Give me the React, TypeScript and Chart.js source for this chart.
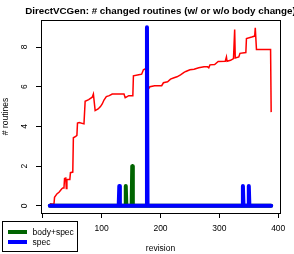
import React, { useEffect, useRef } from "react";
import { Chart, registerables } from "chart.js";

Chart.register(...registerables);

const TITLE = "DirectVCGen: # changed routines (w/ or w/o body change)";
const X_LABEL = "revision";
const Y_LABEL = "# routines";
const LEGEND_LABELS = ["body+spec", "spec"];

// all routines changed (red line)
const redX = [12, 19, 20, 24, 28, 32, 34, 36, 37, 39, 40, 41, 46, 47, 51, 52, 56, 58, 59, 62, 70, 72, 78, 84, 86, 89, 94, 98, 101, 104, 108, 113, 118, 138, 140, 142, 146, 153, 154, 163, 168, 171, 176, 177, 178, 182, 190, 202, 205, 212, 217, 223, 228, 234, 240, 243, 250, 257, 265, 274, 280, 282, 284, 292, 298, 310, 312, 313, 319, 324, 326, 327, 333, 335, 345, 346, 355, 360, 361, 363, 387, 388];
const redY = [0.1, 0.08, 0.43, 0.6, 0.7, 0.85, 0.9, 0.9, 1.38, 1.4, 0.88, 1.33, 1.33, 1.67, 1.7, 3.43, 3.5, 3.55, 4.17, 4.2, 4.13, 5.27, 5.35, 5.47, 5.63, 4.8, 4.88, 5.0, 5.13, 5.33, 5.5, 5.55, 5.63, 5.63, 5.45, 5.48, 5.55, 5.55, 6.55, 6.6, 6.63, 6.85, 6.93, 6.95, 5.83, 6.0, 6.05, 6.05, 6.2, 6.25, 6.38, 6.45, 6.5, 6.6, 6.72, 6.77, 6.85, 6.88, 6.95, 7.0, 7.0, 6.95, 7.1, 7.12, 7.27, 7.28, 7.5, 7.28, 7.33, 7.42, 8.88, 7.45, 7.5, 7.68, 7.72, 8.43, 8.5, 8.55, 8.97, 7.88, 7.88, 4.72];

// body+spec (green)
const greenX = [12, 140, 141, 142, 151, 152, 153, 388];
const greenY = [0, 0, 1, 0, 0, 2, 0, 0];

// spec (blue)
const blueX = [12, 129, 130, 131, 176, 177, 178, 339, 340, 341, 349, 350, 351, 388];
const blueY = [0, 0, 1, 0, 0, 9, 0, 0, 1, 0, 0, 1, 0, 0];

const xTicks = [0, 100, 200, 300, 400];
const yTicks = [0, 2, 4, 6, 8];

const FONT = "'Liberation Sans', Arial, Helvetica, sans-serif";
const RED = "#ff0000";
const GREEN = "#006400";
const BLUE = "#0000ff";

const toPts = (xs: number[], ys: number[]) => xs.map((x, i) => ({ x, y: ys[i] }));

export default function App() {
  const ref = useRef<HTMLCanvasElement | null>(null);

  useEffect(() => {
    document.body.style.margin = "0";
    const canvas = ref.current;
    if (!canvas) return;

    const frame = {
      id: "frame",
      afterDraw(chart: any) {
        const ctx = chart.ctx;
        const a = chart.chartArea;
        const ys = chart.scales.y;
        ctx.save();
        // box
        ctx.strokeStyle = "#000";
        ctx.lineWidth = 1;
        ctx.strokeRect(Math.round(a.left) + 0.5, Math.round(a.top) + 0.5, Math.round(a.right - a.left), Math.round(a.bottom - a.top));
        // rotated y tick labels (R style)
        ctx.fillStyle = "#000";
        ctx.font = `8.5px ${FONT}`;
        ctx.textAlign = "center";
        ctx.textBaseline = "middle";
        for (const v of yTicks) {
          const py = ys.getPixelForValue(v);
          ctx.save();
          ctx.translate(24.5, py);
          ctx.rotate(-Math.PI / 2);
          ctx.fillText(String(v), 0, 0);
          ctx.restore();
        }
        // title
        ctx.font = `bold 9.8px ${FONT}`;
        ctx.textAlign = "center";
        ctx.textBaseline = "alphabetic";
        ctx.fillText(TITLE, (a.left + a.right) / 2, 13.5);
        // legend
        ctx.fillStyle = "#fff";
        ctx.fillRect(2.5, 221.5, 75, 30);
        ctx.strokeStyle = "#000";
        ctx.lineWidth = 1;
        ctx.strokeRect(2.5, 221.5, 75, 30);
        const cols = [GREEN, BLUE];
        const ly = [232, 242];
        ctx.font = `8.5px ${FONT}`;
        ctx.textAlign = "left";
        ctx.textBaseline = "middle";
        for (let i = 0; i < 2; i++) {
          ctx.strokeStyle = cols[i];
          ctx.lineWidth = 4;
          ctx.lineCap = "butt";
          ctx.beginPath();
          ctx.moveTo(8, ly[i]);
          ctx.lineTo(27, ly[i]);
          ctx.stroke();
          ctx.fillStyle = "#000";
          ctx.fillText(LEGEND_LABELS[i], 32.5, ly[i] + 0.5);
        }
        ctx.restore();
      },
    };

    const chart = new Chart(canvas, {
      type: "line",
      data: {
        datasets: [
          {
            label: LEGEND_LABELS[1],
            data: toPts(blueX, blueY),
            borderColor: BLUE,
            borderWidth: 4,
            pointRadius: 0,
            borderJoinStyle: "round",
            borderCapStyle: "round",
            tension: 0,
          },
          {
            label: LEGEND_LABELS[0],
            data: toPts(greenX, greenY),
            borderColor: GREEN,
            borderWidth: 4,
            pointRadius: 0,
            borderJoinStyle: "round",
            borderCapStyle: "round",
            tension: 0,
          },
          {
            label: "all",
            data: toPts(redX, redY),
            borderColor: RED,
            borderWidth: 1.5,
            pointRadius: 0,
            tension: 0,
          },
        ],
      },
      options: {
        responsive: false,
        animation: false,
        devicePixelRatio: 1,
        layout: { padding: { top: 20, right: 14, left: 0, bottom: 0 } },
        plugins: {
          legend: { display: false },
          tooltip: { enabled: false },
          title: { display: false },
        },
        scales: {
          x: {
            type: "linear",
            min: -3,
            max: 403,
            afterFit: (s: any) => {
              s.height = 41;
            },
            afterBuildTicks: (s: any) => {
              s.ticks = xTicks.map((v) => ({ value: v }));
            },
            ticks: {
              color: "#000",
              font: { family: FONT, size: 8.5 },
              padding: 6,
              maxRotation: 0,
              autoSkip: false,
            },
            grid: {
              display: true,
              drawOnChartArea: false,
              drawTicks: true,
              tickLength: 5,
              color: "#000",
              lineWidth: 1,
            },
            border: { display: false },
            title: {
              display: true,
              text: X_LABEL,
              color: "#000",
              font: { family: FONT, size: 8.5 },
              padding: { top: 0, bottom: 0 },
            },
          },
          y: {
            type: "linear",
            min: -0.36,
            max: 9.36,
            afterFit: (s: any) => {
              s.width = 41;
            },
            afterBuildTicks: (s: any) => {
              s.ticks = yTicks.map((v) => ({ value: v }));
            },
            ticks: {
              display: false,
              autoSkip: false,
            },
            grid: {
              display: true,
              drawOnChartArea: false,
              drawTicks: true,
              tickLength: 5,
              color: "#000",
              lineWidth: 1,
            },
            border: { display: false },
            title: {
              display: true,
              text: Y_LABEL,
              color: "#000",
              font: { family: FONT, size: 8.5 },
              padding: { top: 1, bottom: 0 },
            },
          },
        },
      },
      plugins: [frame],
    } as any);

    return () => chart.destroy();
  }, []);

  return (
    <div style={{ width: 294, height: 254, background: "#fff" }}>
      <canvas ref={ref} width={294} height={254} style={{ display: "block", width: 294, height: 254 }} />
    </div>
  );
}
